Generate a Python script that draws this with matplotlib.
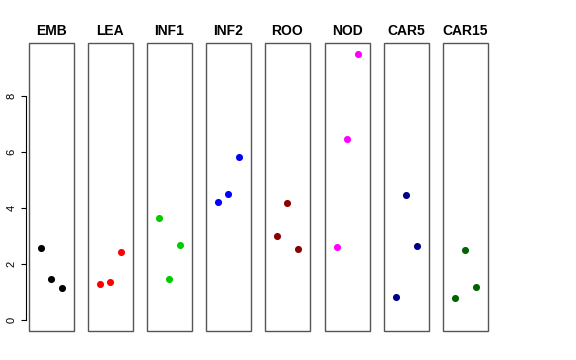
import matplotlib
matplotlib.use("Agg")
import matplotlib.pyplot as plt
from matplotlib.patches import Rectangle

plt.rcParams['font.family'] = ['Liberation Sans', 'DejaVu Sans']

groups = ['EMB', 'LEA', 'INF1', 'INF2', 'ROO', 'NOD', 'CAR5', 'CAR15']
colors = ['black', 'red', '#00CD00', 'blue', '#8B0000', 'magenta', '#00008B', '#006400']
x_pos = [1, 2, 3]
values = {
    'EMB': [2.57, 1.48, 1.14],
    'LEA': [1.30, 1.37, 2.45],
    'INF1': [3.64, 1.49, 2.70],
    'INF2': [4.21, 4.50, 5.81],
    'ROO': [2.99, 4.18, 2.54],
    'NOD': [2.61, 6.48, 9.51],
    'CAR5': [0.82, 4.46, 2.65],
    'CAR15': [0.80, 2.52, 1.19],
}
y_ticks = [0, 2, 4, 6, 8]

fig = plt.figure(figsize=(5.76, 3.6), dpi=100)
W, H = 576, 360
lefts = [29, 88, 147, 206, 265, 325, 384, 443]
pw = 44.6
top, bottom = 43, 331

ymin, ymax = 0.0, 9.51
ypad = 0.04 * (ymax - ymin)

for i, (g, c) in enumerate(zip(groups, colors)):
    ax = fig.add_axes([lefts[i] / W, (H - bottom) / H, pw / W, (bottom - top) / H])
    ax.scatter(x_pos, values[g], s=26, color=c, zorder=3, linewidths=0)
    ax.set_xlim(-0.16, 4.16)
    ax.set_ylim(ymin - ypad, ymax + ypad)
    ax.set_xticks([])
    for s in ax.spines.values():
        s.set_visible(False)
    ax.add_patch(Rectangle((0, 0), 1, 1, transform=ax.transAxes, fill=False,
                           edgecolor='#555555', lw=1.0, zorder=4, clip_on=False))
    ax.set_title(g, fontsize=10, fontweight='bold', pad=6)
    if i == 0:
        sp = ax.spines['left']
        sp.set_visible(True)
        sp.set_position(('outward', 2.2))
        sp.set_bounds(0, 8)
        sp.set_color('black')
        sp.set_linewidth(0.8)
        ax.set_yticks(y_ticks)
        ax.tick_params(axis='y', length=3.6, width=0.8, labelsize=8, pad=3)
        for lab in ax.get_yticklabels():
            lab.set_rotation(90)
            lab.set_va('center')
    else:
        ax.set_yticks([])

fig.savefig('out.png', dpi=100)
